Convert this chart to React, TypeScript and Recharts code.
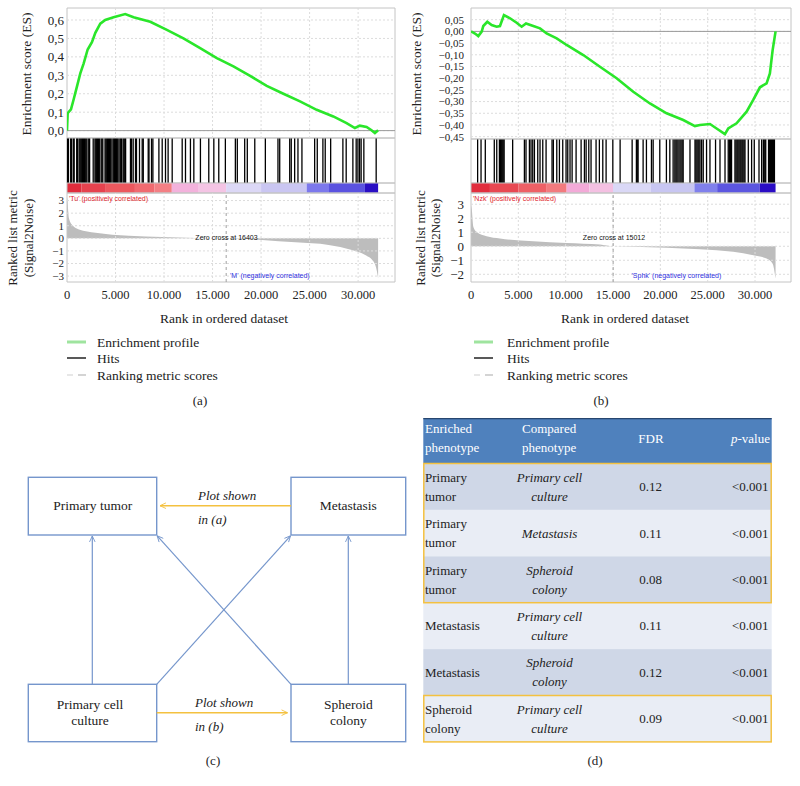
import React from 'react';
import { LineChart, Line, AreaChart, Area, ComposedChart, XAxis, YAxis, ReferenceLine, ReferenceArea } from 'recharts';

const SERIF = '"Liberation Serif", "Times New Roman", serif';
const SANS = '"Liberation Sans", Arial, sans-serif';

const RANK_MAX = 33800;
const RANK_TICKS = [0, 5000, 10000, 15000, 20000, 25000, 30000];

// ---------- Panel (a): Tu vs M ----------
const esRankA = [0, 70, 410, 690, 1030, 1370, 1720, 2130, 2570, 2920, 3430, 3940, 4800, 6000, 6860, 8580, 10290, 12000, 13720, 15440, 17150, 18870, 20580, 22300, 24010, 25730, 27440, 28810, 29670, 30180, 30870, 31380, 31730, 32060];
const esScoreA = [0, 0.095, 0.115, 0.17, 0.24, 0.31, 0.365, 0.44, 0.48, 0.53, 0.58, 0.6, 0.615, 0.632, 0.615, 0.59, 0.546, 0.5, 0.447, 0.393, 0.348, 0.297, 0.243, 0.2, 0.159, 0.113, 0.077, 0.041, 0.014, 0.027, 0.02, 0.002, -0.013, 0.002];
const esTicksA = [0, 0.1, 0.2, 0.3, 0.4, 0.5, 0.6];
const hitsA = [60, 150, 380, 470, 650, 740, 1000, 1090, 1250, 1340, 1430, 1520, 1610, 1700, 1790, 1880, 1970, 2060, 2240, 2330, 2700, 2880, 2970, 3060, 3150, 3240, 3330, 3510, 3600, 3690, 3920, 4010, 4100, 4190, 4280, 4370, 4460, 4550, 4730, 4820, 4910, 5000, 5090, 5180, 5270, 5450, 5540, 5620, 5780, 5870, 5960, 6040, 6540, 6650, 6820, 7060, 7160, 7470, 7750, 7860, 8370, 8450, 8710, 8850, 9470, 9810, 10150, 10420, 10840, 11870, 12210, 12720, 13070, 13750, 14610, 15130, 15640, 16320, 17350, 17550, 18310, 18580, 19350, 20440, 21740, 21920, 22950, 23110, 23460, 23800, 24210, 25520, 25790, 26370, 26610, 27170, 28430, 28770, 29460, 29800, 29980, 30150, 30310, 30590, 31860];
const cbStartA = [0, 1500, 4000, 7000, 9000, 10800, 13500, 16400, 20000, 24700, 27000, 30700];
const cbEndA = [1500, 4000, 7000, 9000, 10800, 13500, 16400, 20000, 24700, 27000, 30700, 32060];
const metricRankA = [0, 30, 200, 540, 1230, 2940, 6370, 9800, 13230, 16403, 20100, 23530, 26960, 29360, 30730, 31590, 31930, 32060];
const metricValA = [3.3, 3.1, 1.6, 1.06, 0.71, 0.45, 0.21, 0.1, 0.03, 0, -0.13, -0.32, -0.53, -0.93, -1.32, -1.85, -2.6, -3.2];
const metricTicksA = [-3, -2, -1, 0, 1, 2, 3];
const zeroCrossA = 16403;

// ---------- Panel (b): Nzk vs Sphk ----------
const esRankB = [0, 420, 770, 1130, 1300, 1720, 2180, 2710, 3060, 3480, 4120, 4820, 5350, 5810, 6580, 7290, 7990, 9050, 10100, 11860, 13620, 15380, 17140, 18900, 20660, 22420, 23650, 24180, 25240, 25940, 26820, 27170, 28050, 29110, 29810, 30520, 31220, 31570, 31860, 32170];
const esScoreB = [0, -0.009, -0.02, -0.001, 0.023, 0.041, 0.027, 0.02, 0.023, 0.07, 0.056, 0.037, 0.02, 0.034, 0.023, 0.013, -0.009, -0.03, -0.058, -0.101, -0.151, -0.2, -0.258, -0.308, -0.35, -0.379, -0.405, -0.4, -0.396, -0.415, -0.439, -0.415, -0.393, -0.343, -0.293, -0.239, -0.222, -0.18, -0.08, 0];
const esTicksB = [-0.45, -0.4, -0.35, -0.3, -0.25, -0.2, -0.15, -0.1, -0.05, 0, 0.05];
const hitsB = [700, 1060, 1510, 2460, 2720, 3000, 3100, 3200, 3300, 3400, 3500, 4400, 5640, 5810, 6170, 6340, 6520, 6700, 7050, 7290, 7580, 7930, 8560, 8700, 9060, 9340, 9690, 10040, 10220, 10460, 10680, 11100, 11630, 11980, 12160, 12440, 12680, 13210, 13560, 13920, 14270, 14980, 15750, 17020, 17470, 17560, 17650, 18180, 18530, 19060, 19240, 19940, 20640, 21000, 21350, 21530, 21650, 21760, 21880, 22060, 22180, 22300, 22410, 23130, 23660, 23760, 23870, 23980, 24080, 24190, 24360, 24530, 24880, 25240, 25830, 26300, 26830, 27170, 27290, 27410, 27520, 27880, 27990, 28100, 28200, 28310, 28420, 28520, 28630, 28730, 28840, 28940, 29290, 29640, 29920, 30420, 30700, 30880, 30960, 31050, 31130, 31430, 31530, 31640, 31740, 31850, 31950, 32050];
const cbStartB = [0, 2000, 5000, 8000, 10100, 12500, 15000, 19000, 23600, 26000, 30500];
const cbEndB = [2000, 5000, 8000, 10100, 12500, 15000, 19000, 23600, 26000, 30500, 32170];
const metricRankB = [0, 70, 250, 600, 1650, 3060, 6580, 10100, 13620, 15012, 17140, 20660, 24180, 27700, 29810, 31220, 31860, 32170];
const metricValB = [2.9, 2.7, 1.38, 1.02, 0.71, 0.55, 0.36, 0.24, 0.12, 0, -0.03, -0.1, -0.21, -0.4, -0.64, -0.88, -1.24, -2.3];
const metricTicksB = [-2, -1, 0, 1, 2, 3];
const zeroCrossB = 15012;

// ---------- Panel (d) table ----------
const enrichedPhenotype = [['Primary', 'tumor'], ['Primary', 'tumor'], ['Primary', 'tumor'], ['Metastasis'], ['Metastasis'], ['Spheroid', 'colony']];
const comparedPhenotype = [['Primary cell', 'culture'], ['Metastasis'], ['Spheroid', 'colony'], ['Primary cell', 'culture'], ['Spheroid', 'colony'], ['Primary cell', 'culture']];
const fdrValues = ['0.12', '0.11', '0.08', '0.11', '0.12', '0.09'];
const pValues = ['<0.001', '<0.001', '<0.001', '<0.001', '<0.001', '<0.001'];

// styles (colors of colour-bar segments)
const CB_COLORS_A = ['#e02c3c', '#e6424e', '#ec585e', '#f06a70', '#f37f84', '#f3b2dc', '#f4c4e4', '#dcd8f6', '#cac6f2', '#7c78ec', '#5a52e0', '#2a0ec4'];
const CB_COLORS_B = ['#e22e3e', '#e84852', '#ee6066', '#f27a7e', '#f3aad8', '#f4c0e2', '#dad8f6', '#c8c6f2', '#8080ec', '#5c56e0', '#2a0cc4'];

const zip = (r: number[], v: number[], key: string) => r.map((x, i) => ({ rank: x, [key]: v[i] }));

const fmtRank = (v: number) => (v === 0 ? '0' : `${v / 1000}.000`);
const fmtComma = (d: number) => (v: number) => v.toFixed(d).replace('.', ',').replace('-', '\u2212');
const fmtMetric = (v: number) => String(v).replace('-', '\u2212');

type Geom = { left: number; mL: number; mR: number; tickGap: number };
const geomA: Geom = { left: 0, mL: 7, mR: 5, tickGap: 3 };
const geomB: Geom = { left: 400, mL: 11, mR: 9, tickGap: 7 };
const CW = 400;
const YW = 60;

const GRID = '#dcdcdc';
const FRAME = '#c4c4c4';

type PanelProps = {
  g: Geom;
  esRank: number[]; esScore: number[]; esDomain: [number, number]; esTicks: number[]; esFmt: (v: number) => string; esBottom: number; esFont: number;
  hits: number[]; cbStart: number[]; cbEnd: number[]; cbColors: string[];
  mRank: number[]; mVal: number[]; mDomain: [number, number]; mTicks: number[]; mFont: number; zeroCross: number;
};

function GseaPanel(p: PanelProps) {
  const { g } = p;
  const mStrip = { top: 2, bottom: 2, left: g.mL + YW, right: g.mR };
  const esH = p.esBottom - 8 + 10;
  const esData = zip(p.esRank, p.esScore, 'es');
  const mData = zip(p.mRank, p.mVal, 'metric');
  const hitData = p.hits.map((h) => ({ rank: h, v: 0.5 }));
  const tickStyle = { fill: '#222', fontSize: 13, fontFamily: SERIF };
  const xAx = <XAxis dataKey="rank" type="number" domain={[0, RANK_MAX]} hide allowDataOverflow />;
  const vGrid = RANK_TICKS.slice(1).map((t) => (
    <ReferenceLine key={'vg' + t} x={t} stroke={GRID} strokeDasharray="2 2" />
  ));
  const hitsH = 183 - p.esBottom + 4;
  return (
    <>
      <div style={{ position: 'absolute', left: g.left, top: p.esBottom - 2, width: CW, height: hitsH }}>
        <ComposedChart width={CW} height={hitsH} data={hitData} margin={mStrip}>
          {xAx}
          <YAxis type="number" domain={[0, 1]} hide />
          <ReferenceArea x1={0} x2={RANK_MAX} y1={0} y2={1} fill="none" stroke={FRAME} />
          {p.hits.map((h, i) => (
            <ReferenceLine key={'h' + i} x={h} stroke="#000" strokeWidth={1.3} segment={[{ x: h, y: 0 }, { x: h, y: 0.95 }]} />
          ))}
          <Line dataKey="v" stroke="none" dot={false} isAnimationActive={false} />
        </ComposedChart>
      </div>
      <div style={{ position: 'absolute', left: g.left, top: 181, width: CW, height: 14 }}>
        <ComposedChart width={CW} height={14} data={hitData} margin={mStrip}>
          {xAx}
          <YAxis type="number" domain={[0, 1]} hide />
          {p.cbStart.map((s, i) => (
            <ReferenceArea key={'cb' + i} x1={s} x2={p.cbEnd[i]} y1={0} y2={1} fill={p.cbColors[i]} fillOpacity={1} stroke="none" />
          ))}
          <ReferenceArea x1={0} x2={RANK_MAX} y1={0} y2={1} fill="none" stroke={FRAME} />
          <Line dataKey="v" stroke="none" dot={false} isAnimationActive={false} />
        </ComposedChart>
      </div>
      <div style={{ position: 'absolute', left: g.left, top: 6, width: CW, height: esH }}>
        <LineChart width={CW} height={esH} data={esData} margin={{ top: 2, bottom: 8, left: g.mL, right: g.mR }}>
          {xAx}
          <YAxis type="number" domain={p.esDomain} ticks={p.esTicks} tickFormatter={p.esFmt} width={YW} axisLine={false} tickLine={false} tickSize={0} tickMargin={g.tickGap} tick={{ ...tickStyle, fontSize: p.esFont }} interval={0} allowDataOverflow />
          {vGrid}
          {p.esTicks.map((t) => (
            <ReferenceLine key={'hg' + t} y={t} stroke={GRID} strokeDasharray="2 2" />
          ))}
          <ReferenceLine y={0} stroke="#9a9a9a" />
          <ReferenceArea x1={0} x2={RANK_MAX} y1={p.esDomain[0]} y2={p.esDomain[1]} fill="none" stroke={FRAME} />
          <Line dataKey="es" type="linear" dot={false} stroke="#2ae62a" strokeWidth={2.6} isAnimationActive={false} />
        </LineChart>
      </div>
      <div style={{ position: 'absolute', left: g.left, top: 191, width: CW, height: 121 }}>
        <AreaChart width={CW} height={121} data={mData} margin={{ top: 2, bottom: 0, left: g.mL, right: g.mR }}>
          <XAxis dataKey="rank" type="number" domain={[0, RANK_MAX]} ticks={RANK_TICKS} tickFormatter={fmtRank} interval={0} axisLine={false} tickLine={false} tickSize={0} tickMargin={8} height={30} tick={{ fill: '#222', fontSize: 12.5, fontFamily: SERIF }} allowDataOverflow />
          <YAxis type="number" domain={p.mDomain} ticks={p.mTicks} tickFormatter={fmtMetric} width={YW} axisLine={false} tickLine={false} tickSize={0} tickMargin={g.tickGap} tick={{ ...tickStyle, fontSize: p.mFont }} interval={0} allowDataOverflow />
          {vGrid}
          {p.mTicks.map((t) => (
            <ReferenceLine key={'mg' + t} y={t} stroke={GRID} strokeDasharray="2 2" />
          ))}
          <Area dataKey="metric" type="monotone" baseValue={0} fill="#bdbdbd" fillOpacity={1} stroke="none" isAnimationActive={false} />
          <ReferenceLine x={p.zeroCross} stroke="#a0a0a0" strokeDasharray="3 3" />
          <ReferenceArea x1={0} x2={RANK_MAX} y1={p.mDomain[0]} y2={p.mDomain[1]} fill="none" stroke={FRAME} />
        </AreaChart>
      </div>
    </>
  );
}

const BLUE = '#7596cc';
const YELLOW = '#f4c140';

function Legend({ x, tx }: { x: number; tx: number }) {
  const ts = { fontFamily: SERIF, fontSize: 13.5, fill: '#222' };
  return (
    <g>
      <line x1={x} x2={x + 19} y1={342} y2={342} stroke="#9fe49f" strokeWidth={3} />
      <text x={tx} y={342} dominantBaseline="central" style={ts}>Enrichment profile</text>
      <line x1={x} x2={x + 19} y1={358} y2={358} stroke="#222" strokeWidth={1.5} />
      <text x={tx} y={358} dominantBaseline="central" style={ts}>Hits</text>
      <line x1={x} x2={x + 6} y1={375} y2={375} stroke="#d8d8d8" strokeWidth={1.2} />
      <line x1={x + 11} x2={x + 19} y1={375} y2={375} stroke="#b8b8b8" strokeWidth={1.2} />
      <text x={tx} y={375} dominantBaseline="central" style={ts}>Ranking metric scores</text>
    </g>
  );
}

function Overlay() {
  const lab = { fontFamily: SERIF, fontSize: 13.5, fill: '#222' };
  const lab2 = { fontFamily: SERIF, fontSize: 13, fill: '#222' };
  const small = { fontFamily: SANS, fontSize: 7 };
  const box = { fill: 'none', stroke: BLUE, strokeWidth: 1.4 };
  const boxText = { fontFamily: SERIF, fontSize: 13.5, fill: '#222' };
  const ital = { fontFamily: SERIF, fontSize: 13, fontStyle: 'italic' as const, fill: '#222' };
  const rowTop = (i: number) => 463.5 + i * 46.4;
  const tableText = { fontFamily: SERIF, fontSize: 13, fill: '#222' };
  return (
    <svg width={800} height={786} style={{ position: 'absolute', left: 0, top: 0, pointerEvents: 'none' }}>
      <defs>
        <marker id="arB" viewBox="0 0 10 10" refX="9.5" refY="5" markerWidth="7" markerHeight="7" markerUnits="userSpaceOnUse" orient="auto">
          <path d="M1,1 L9.5,5 L1,9" fill="none" stroke={BLUE} strokeWidth={1.3} />
        </marker>
        <marker id="arY" viewBox="0 0 10 10" refX="9.5" refY="5" markerWidth="7" markerHeight="7" markerUnits="userSpaceOnUse" orient="auto">
          <path d="M1,1 L9.5,5 L1,9" fill="none" stroke={YELLOW} strokeWidth={1.3} />
        </marker>
      </defs>

      {/* panel a texts */}
      <text transform="translate(26,74) rotate(-90)" textAnchor="middle" dominantBaseline="central" style={lab}>Enrichment score (ES)</text>
      <text transform="translate(12.5,238) rotate(-90)" textAnchor="middle" dominantBaseline="central" style={lab2}>Ranked list metric</text>
      <text transform="translate(28,238) rotate(-90)" textAnchor="middle" dominantBaseline="central" style={lab2}>(Signal2Noise)</text>
      <text x={69} y={198.5} dominantBaseline="central" style={{ ...small, fill: '#e0242a' }}>'Tu' (positively correlated)</text>
      <text x={226.5} y={237.5} textAnchor="middle" dominantBaseline="central" style={{ ...small, fill: '#111' }}>Zero cross at 16403</text>
      <text x={230} y={275.5} dominantBaseline="central" style={{ ...small, fill: '#3030e0' }}>'M' (negatively correlated)</text>
      <text x={224} y={318} textAnchor="middle" dominantBaseline="central" style={lab}>Rank in ordered dataset</text>
      <Legend x={67} tx={97} />
      <text x={200} y={400} textAnchor="middle" dominantBaseline="central" style={lab2}>(a)</text>

      {/* panel b texts */}
      <text transform="translate(416.5,74) rotate(-90)" textAnchor="middle" dominantBaseline="central" style={lab}>Enrichment score (ES)</text>
      <text transform="translate(420.5,238) rotate(-90)" textAnchor="middle" dominantBaseline="central" style={lab2}>Ranked list metric</text>
      <text transform="translate(435,238) rotate(-90)" textAnchor="middle" dominantBaseline="central" style={lab2}>(Signal2Noise)</text>
      <text x={473} y={198.5} dominantBaseline="central" style={{ ...small, fill: '#e0242a' }}>'Nzk' (positively correlated)</text>
      <text x={614} y={237.5} textAnchor="middle" dominantBaseline="central" style={{ ...small, fill: '#111' }}>Zero cross at 15012</text>
      <text x={631.5} y={275.5} dominantBaseline="central" style={{ ...small, fill: '#3030e0' }}>'Sphk' (negatively correlated)</text>
      <text x={625} y={318} textAnchor="middle" dominantBaseline="central" style={lab}>Rank in ordered dataset</text>
      <Legend x={474} tx={507} />
      <text x={601} y={400} textAnchor="middle" dominantBaseline="central" style={lab2}>(b)</text>

      {/* panel c diagram */}
      <rect x={28.3} y={477.3} width={128.4} height={57.7} style={box} />
      <rect x={291} y={477.3} width={114.7} height={57.7} style={box} />
      <rect x={28.3} y={684.3} width={128.4} height={57.4} style={box} />
      <rect x={291} y={684.3} width={114.7} height={57.4} style={box} />
      <line x1={92.3} y1={684.3} x2={92.3} y2={536} stroke={BLUE} strokeWidth={1.2} markerEnd="url(#arB)" />
      <line x1={348.3} y1={684.3} x2={348.3} y2={536} stroke={BLUE} strokeWidth={1.2} markerEnd="url(#arB)" />
      <line x1={156.7} y1={684.3} x2={290.5} y2={535.8} stroke={BLUE} strokeWidth={1.2} markerEnd="url(#arB)" />
      <line x1={291} y1={684.3} x2={157.2} y2={535.8} stroke={BLUE} strokeWidth={1.2} markerEnd="url(#arB)" />
      <line x1={291} y1={505.7} x2={160} y2={505.7} stroke={YELLOW} strokeWidth={1.4} markerEnd="url(#arY)" />
      <line x1={156.7} y1={712.7} x2={287.5} y2={712.7} stroke={YELLOW} strokeWidth={1.4} markerEnd="url(#arY)" />
      <text x={198} y={495} dominantBaseline="central" style={ital}>Plot shown</text>
      <text x={198} y={519} dominantBaseline="central" style={ital}>in (a)</text>
      <text x={195} y={702.7} dominantBaseline="central" style={ital}>Plot shown</text>
      <text x={195} y={726.7} dominantBaseline="central" style={ital}>in (b)</text>
      <text x={92.7} y={505.7} textAnchor="middle" dominantBaseline="central" style={boxText}>Primary tumor</text>
      <text x={348.3} y={505.7} textAnchor="middle" dominantBaseline="central" style={boxText}>Metastasis</text>
      <text x={90} y={704} textAnchor="middle" dominantBaseline="central" style={boxText}>Primary cell</text>
      <text x={90} y={720.7} textAnchor="middle" dominantBaseline="central" style={boxText}>culture</text>
      <text x={348.3} y={704.7} textAnchor="middle" dominantBaseline="central" style={boxText}>Spheroid</text>
      <text x={348.3} y={720.7} textAnchor="middle" dominantBaseline="central" style={boxText}>colony</text>
      <text x={213} y={760} textAnchor="middle" dominantBaseline="central" style={lab2}>(c)</text>

      {/* panel d table */}
      <rect x={423.3} y={418.3} width={348.4} height={45.2} fill="#4f81bd" />
      <line x1={423.3} x2={771.7} y1={418.6} y2={418.6} stroke="#27466f" strokeWidth={1.4} />
      <text x={425} y={428.3} dominantBaseline="central" style={{ ...tableText, fill: '#fff' }}>Enriched</text>
      <text x={425} y={447.3} dominantBaseline="central" style={{ ...tableText, fill: '#fff' }}>phenotype</text>
      <text x={522} y={428.3} dominantBaseline="central" style={{ ...tableText, fill: '#fff' }}>Compared</text>
      <text x={522} y={447.3} dominantBaseline="central" style={{ ...tableText, fill: '#fff' }}>phenotype</text>
      <text x={651} y={438} textAnchor="middle" dominantBaseline="central" style={{ ...tableText, fill: '#fff' }}>FDR</text>
      <text x={770} y={438} textAnchor="end" dominantBaseline="central" style={{ ...tableText, fill: '#fff' }}>
        <tspan fontStyle="italic">p</tspan>-value
      </text>
      {fdrValues.map((f, i) => {
        const top = rowTop(i);
        const mid = top + 23.2;
        const en = enrichedPhenotype[i];
        const cp = comparedPhenotype[i];
        return (
          <g key={'row' + i}>
            <rect x={423.3} y={top} width={348.4} height={46.4} fill={i % 2 === 0 ? '#cfd7e7' : '#e9edf5'} />
            {en.map((s, j) => (
              <text key={'e' + j} x={425} y={en.length === 1 ? mid : mid - 9.5 + j * 19} dominantBaseline="central" style={tableText}>{s}</text>
            ))}
            {cp.map((s, j) => (
              <text key={'c' + j} x={549.5} y={cp.length === 1 ? mid : mid - 9.5 + j * 19} textAnchor="middle" dominantBaseline="central" style={{ ...tableText, fontStyle: 'italic' }}>{s}</text>
            ))}
            <text x={650.7} y={mid} textAnchor="middle" dominantBaseline="central" style={tableText}>{f}</text>
            <text x={768.5} y={mid} textAnchor="end" dominantBaseline="central" style={tableText}>{pValues[i]}</text>
          </g>
        );
      })}
      <rect x={423.8} y={rowTop(0)} width={347.4} height={46.4 * 3} fill="none" stroke={YELLOW} strokeWidth={1.5} />
      <rect x={423.8} y={rowTop(5)} width={347.4} height={46.4} fill="none" stroke={YELLOW} strokeWidth={1.5} />
      <text x={595} y={760} textAnchor="middle" dominantBaseline="central" style={lab2}>(d)</text>
    </svg>
  );
}

export default function App() {
  return (
    <div style={{ position: 'absolute', left: 0, top: 0, width: 800, height: 786, background: '#fff', overflow: 'hidden' }}>
      <GseaPanel g={geomA} esRank={esRankA} esScore={esScoreA} esDomain={[-0.04, 0.665]} esTicks={esTicksA} esFmt={fmtComma(1)} esBottom={138} esFont={13}
        hits={hitsA} cbStart={cbStartA} cbEnd={cbEndA} cbColors={CB_COLORS_A}
        mRank={metricRankA} mVal={metricValA} mDomain={[-3.47, 3.6]} mTicks={metricTicksA} mFont={11} zeroCross={zeroCrossA} />
      <GseaPanel g={geomB} esRank={esRankB} esScore={esScoreB} esDomain={[-0.46, 0.1]} esTicks={esTicksB} esFmt={fmtComma(2)} esBottom={139} esFont={11}
        hits={hitsB} cbStart={cbStartB} cbEnd={cbEndB} cbColors={CB_COLORS_B}
        mRank={metricRankB} mVal={metricValB} mDomain={[-2.55, 3.8]} mTicks={metricTicksB} mFont={13} zeroCross={zeroCrossB} />
      <Overlay />
    </div>
  );
}
